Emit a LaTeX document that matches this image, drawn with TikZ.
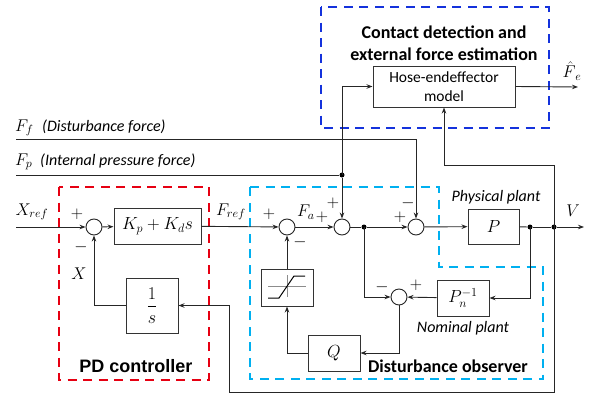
\RequirePackage{fix-cm}
\documentclass[tikz,border=0pt]{standalone}
\usepackage{amsmath}
\usepackage{fontspec}
\setmainfont{Carlito}
\newfontfamily\arialfont{Liberation Sans}
\usetikzlibrary{arrows.meta,calc}
\definecolor{pdred}{RGB}{230,0,18}
\definecolor{dobblue}{RGB}{0,176,240}
\definecolor{cdblue}{RGB}{20,50,220}
\begin{document}
\begin{tikzpicture}[x=1pt,y=-1pt,
  ln/.style={line width=0.9pt, black!85},
  arr/.style={ln, -{Stealth[length=6pt,width=4.5pt]}},
  blk/.style={draw=black!80, line width=1pt, inner sep=0pt, font=\fontsize{17.5}{20}\selectfont},
  sum/.style={circle, draw=black!85, line width=0.9pt, minimum size=16pt, inner sep=0pt},
  jdot/.style={circle, fill=black, inner sep=0pt, minimum size=5pt},
  sgn/.style={font=\fontsize{17}{19}\selectfont, inner sep=0pt},
  lbl/.style={font=\fontsize{17}{19}\selectfont, inner sep=0pt},
  ilbl/.style={font=\fontsize{16}{19}\selectfont\itshape, inner sep=0pt},
  ttl/.style={font=\fontsize{18}{22}\selectfont\bfseries, inner sep=0pt},
  grp/.style={line width=2.8pt, dash pattern=on 9pt off 6.5pt},
]
\useasboundingbox (0,0) rectangle (597,399);

% group frames
\draw[grp, pdred] (59,187) rectangle (209,380);
\draw[grp, dobblue] (250,187) -- (439,187) -- (439,267) -- (543,267) -- (543,379) -- (250,379) -- cycle;
\draw[grp, cdblue] (321,7) rectangle (549,128);

% blocks
\node[blk, minimum width=87pt, minimum height=36pt] (K) at (157.5,226) {$K_p+K_d s$};
\node[blk, minimum width=52pt, minimum height=55pt, font=\fontsize{18}{21}\selectfont] (I) at (152,305.5) {$\dfrac{1}{s}$};
\node[blk, minimum width=52pt, minimum height=37pt] (S) at (287,287.5) {};
\node[blk, minimum width=52pt, minimum height=36pt] (Q) at (334,353) {$Q$};
\node[blk, minimum width=51pt, minimum height=35pt] (P) at (493.5,226.5) {$P$};
\node[blk, minimum width=52pt, minimum height=36pt] (Pn) at (463,298) {$P_n^{-1}$};
\node[blk, minimum width=142pt, minimum height=41pt, align=center, font=\fontsize{15.5}{19}\selectfont] (H) at (444,86.5) {Hose-endeffector\\model};

% saturation symbol
\draw[black!45, line width=0.6pt] (268,286) -- (306,286) (287,275) -- (287,297);
\draw[black, line width=1pt] (268,298) -- (279,298) -- (294,276) -- (305,276);

% sums
\node[sum] (s1) at (94,227) {};
\node[sum] (s2) at (287,227) {};
\node[sum] (s3) at (342,227) {};
\node[sum] (s4) at (416,227) {};
\node[sum] (s5) at (399,297) {};

% junctions
\node[jdot] (d1) at (364,227) {};
\node[jdot] (d2) at (530,227) {};
\node[jdot] (d3) at (554,227) {};
\node[jdot] (d4) at (342,175) {};

% free ends
\coordinate (xin) at (16,227);
\coordinate (vout) at (584,227);
\coordinate (ffin) at (16,139);
\coordinate (ffc) at (416,139);
\coordinate (fpin) at (16,175);
\coordinate (feout) at (578,87);
\coordinate (bb) at (554,392);
\coordinate (bl) at (229,392);
\coordinate (tt) at (554,165);

% forward path
\draw[arr] (xin) -- (s1);
\draw[arr] (s1) -- (K);
\draw[arr] (K) -- (s2);
\draw[arr] (s2) -- (s3);
\draw[ln] (s3) -- (d1);
\draw[arr] (d1) -- (s4);
\draw[arr] (s4) -- (P);
\draw[ln] (P) -- (d2);
\draw[ln] (d2) -- (d3);
\draw[arr] (d3) -- (vout);

% disturbance observer loop
\draw[arr] (d2.center) |- (Pn.east);
\draw[arr] (Pn) -- (s5);
\draw[arr] (d1.center) |- (s5.west);
\draw[arr] (s5.south) |- (Q.east);
\draw[arr] (Q.west) -| (S.south);
\draw[arr] (S) -- (s2);

% position loop
\draw[arr] (d3.center) -- (bb) -- (bl) |- (I.east);
\draw[arr] (I.west) -| (s1.south);

% external inputs
\draw[arr] (ffin) -- (ffc) -- (s4.north);
\draw[ln] (fpin) -- (d4);
\draw[arr] (d4) -- (s3);
\draw[arr] (d4.center) |- (H.west);
\draw[arr] (d3.center) -- (tt) -| (H.south);
\draw[arr] (H.east) -- (feout);

% signs
\node[sgn] at (77,214) {$+$};
\node[sgn] at (81,247) {$-$};
\node[sgn] at (269,214) {$+$};
\node[sgn] at (300,242) {$-$};
\node[sgn] at (322,217) {$+$};
\node[sgn] at (333,203) {$+$};
\node[sgn] at (400,217) {$+$};
\node[sgn] at (408,203) {$-$};
\node[sgn] at (382,287) {$-$};
\node[sgn] at (416,285) {$+$};

% signal labels
\node[lbl] at (32,212) {$X_{ref}$};
\node[lbl] at (79,274) {$X$};
\node[lbl] at (231,212) {$F_{ref}$};
\node[lbl] at (306,212) {$F_a$};
\node[lbl] at (573,211) {$V$};
\node[lbl] at (572,71) {$\hat{F}_{\,e}$};
\node[lbl, anchor=west] at (15,128) {$F_f$};
\node[ilbl, anchor=west] at (42,127) {(Disturbance force)};
\node[lbl, anchor=west] at (15,162) {$F_p$};
\node[ilbl, anchor=west] at (40,161) {(Internal pressure force)};
\node[ilbl] at (496,197) {Physical plant};
\node[ilbl] at (463,328) {Nominal plant};

% group titles
\node[ttl] at (448,366) {Disturbance observer};
\node[ttl, font=\arialfont\fontsize{18}{22}\selectfont\bfseries] at (136,366) {PD controller};
\node[ttl, align=center] at (444,43) {Contact detection and\\external force estimation};
\end{tikzpicture}
\end{document}
